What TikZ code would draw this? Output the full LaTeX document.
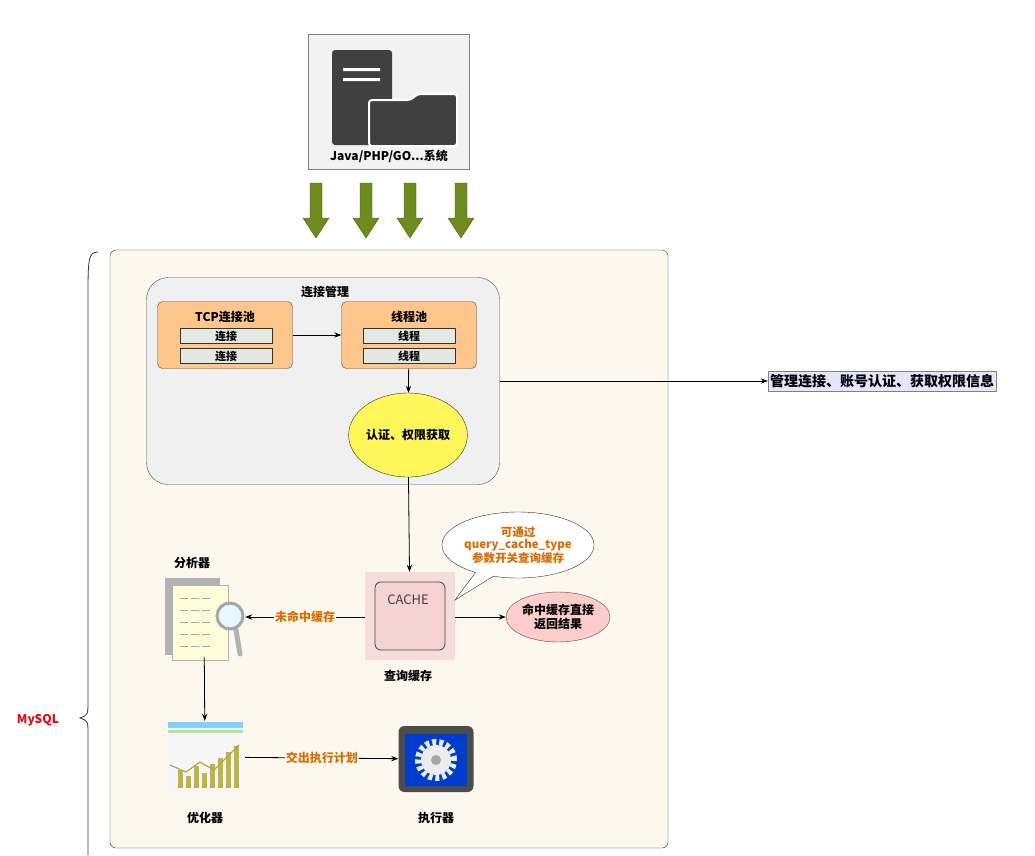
\documentclass[tikz,border=0pt]{standalone}
\usepackage{fontspec}
\setmainfont{Noto Sans CJK SC}
\usetikzlibrary{shapes.geometric,shapes.callouts,arrows.meta}
\colorlet{poolFill}{orange!45!white}
\colorlet{itemFill}{green!10!gray!20}
\colorlet{noteColor}{orange!85!black}
\definecolor{mainFill}{HTML}{FCF8EE}
\definecolor{pushGreen}{HTML}{6E8B1F}
\definecolor{cacheFill}{HTML}{F5D3D3}
\tikzset{
  every node/.style={font=\bfseries\fontsize{12}{14}\selectfont},
  pool/.style={draw=black!70,fill=poolFill,rounded corners=5pt,minimum width=135pt,minimum height=67pt},
  item/.style={draw=black!80,fill=itemFill,minimum width=92pt,minimum height=15pt,inner sep=0pt,font=\bfseries\fontsize{11}{12}\selectfont},
  flow/.style={-{Stealth[length=7pt]},thick},
  note/.style={text=noteColor,fill=mainFill,inner sep=1pt},
  push/.style={draw=pushGreen!70!black,fill=pushGreen}
}
\begin{document}
\begin{tikzpicture}[x=1pt,y=-1pt]
\useasboundingbox (0,0) rectangle (1035,855);
% client system
\node[draw=gray,fill=gray!10,minimum width=161pt,minimum height=135pt] (client) at (389,102) {};
\fill[black!75,rounded corners=3pt] (332,50) rectangle (392,145);
\fill[white] (343,68) rectangle (380,71) (343,78) rectangle (380,81);
\draw[white,line width=2pt,fill=black!75,rounded corners=3pt] (369,146) -- (369,100) -- (410,100) -- (418,94) -- (457,94) -- (457,146) -- cycle;
\node (clientLabel) at (389,156) {Java/PHP/GO...系统};
\foreach \x in {316,366,410,461}
  \draw[push] (\x-6,183) -- (\x+6,183) -- (\x+6,218) -- (\x+13,218) -- (\x,238) -- (\x-13,218) -- (\x-6,218) -- cycle;
% mysql frame
\node[draw=black!80,fill=mainFill,rounded corners=6pt,minimum width=558pt,minimum height=598pt] (mysql) at (389,549) {};
\draw[thick,black!80] (98,252) .. controls (88,252) and (88,260) .. (88,300) -- (88,700)
  .. controls (88,715) .. (80,718) .. controls (88,721) .. (88,735) -- (88,855);
\node[text=red!75!purple] (mysqlLabel) at (38,720) {MySQL};
% connection management
\node[draw=black!70,fill=gray!12,rounded corners=22pt,minimum width=353pt,minimum height=207pt] (conn) at (323,381) {};
\node (connTitle) at (325,292) {连接管理};
\node[pool] (tcp) at (225,335) {};
\node (tcpTitle) at (225,317) {TCP连接池};
\node[item] (tcpA) at (226,336) {连接};
\node[item] (tcpB) at (226,356) {连接};
\node[pool] (threads) at (409,335) {};
\node (threadsTitle) at (409,317) {线程池};
\node[item] (thrA) at (409,336) {线程};
\node[item] (thrB) at (409,356) {线程};
\draw[flow] (tcp) -- (threads);
\node[ellipse,draw=black!80,fill=yellow!65,minimum width=114pt,minimum height=84pt,inner sep=0pt] (auth) at (408,435) {认证、权限获取};
\draw[flow] (threads) -- (auth);
\node[draw=black!50,fill=blue!10,inner sep=2pt,minimum height=20pt,font=\bfseries\fontsize{14}{16}\selectfont] (connNote) at (882,381) {管理连接、账号认证、获取权限信息};
\draw[flow] (conn.east |- connNote) -- (connNote);
% query cache
\node[fill=cacheFill!80,minimum width=90pt,minimum height=88pt] (cacheBg) at (410,616) {};
\node[draw=black!75,thick,fill=cacheFill,rounded corners=6pt,minimum width=70pt,minimum height=68pt] (cache) at (410,616) {};
\node[font=\fontsize{13}{14}\selectfont,text=black!75] (cacheText) at (408,600) {CACHE};
\node (cacheLabel) at (408,676) {查询缓存};
\draw[flow] (auth) -- (cacheBg);
\node[ellipse callout,draw=black!80,fill=white,text=noteColor,align=center,font=\bfseries\fontsize{11.5}{12.5}\selectfont,
  minimum width=136pt,minimum height=66pt,inner sep=0pt,callout absolute pointer={(455,600)}] (tip) at (518,545)
  {可通过\\query\_cache\_type\\参数开关查询缓存};
\node[ellipse,draw=black!70,fill=red!20,align=center,minimum width=104pt,minimum height=50pt,inner sep=0pt] (hit) at (558,617) {命中缓存直接\\返回结果};
\draw[flow] (cacheBg.east |- hit) -- (hit);
% analyzer
\node[minimum width=82pt,minimum height=80pt] (parser) at (204,617) {};
\fill[gray!60] (165,578) rectangle (220,655);
\fill[yellow!15,draw=gray!60] (172,585) rectangle (228,660);
\foreach \y in {598,610,622,634,646} \draw[gray!70,thick,dash pattern=on 8pt off 3pt] (180,\y) -- (210,\y);
\draw[gray!60,line width=5pt,line cap=round] (236,630) -- (240,654);
\draw[gray!70,line width=3pt,fill=cyan!10] (230,616) circle (13pt);
\node (parserLabel) at (192,563) {分析器};
\draw[flow] (cacheBg.west |- parser) -- node[note]{未命中缓存} (parser.east);
% optimizer
\node[minimum width=80pt,minimum height=72pt] (optimizer) at (205,757) {};
\fill[blue!35!cyan!50] (168,722) rectangle (243,728);
\fill[green!50!olive!40] (168,730) rectangle (243,733);
\fill[gray!6] (168,733) rectangle (243,792);
\foreach \x/\h in {178/18,186/12,194/22,202/15,210/24,218/30,226/36,234/42}
  \fill[olive!60] (\x,788) rectangle (\x+5,788-\h);
\draw[olive!70,very thick,-{Latex[length=6pt]}] (170,765) -- (186,772) -- (200,762) -- (214,770) -- (240,744);
\node (optimizerLabel) at (205,818) {优化器};
\draw[flow] (parser) -- (optimizer);
% executor
\node[fill=black!70,rounded corners=6pt,minimum width=75pt,minimum height=66pt] (executor) at (436,759) {};
\fill[blue!70!cyan!80!black] (405,734) rectangle (467,786);
\draw[white!85!gray,line width=6pt,dash pattern=on 4pt off 3pt] (436,760) circle (18pt);
\fill[white!85!gray] (436,760) circle (15pt);
\fill[gray!70] (436,760) circle (5pt);
\node (executorLabel) at (436,818) {执行器};
\draw[flow] (optimizer) -- node[note]{交出执行计划} (executor);
\end{tikzpicture}
\end{document}
